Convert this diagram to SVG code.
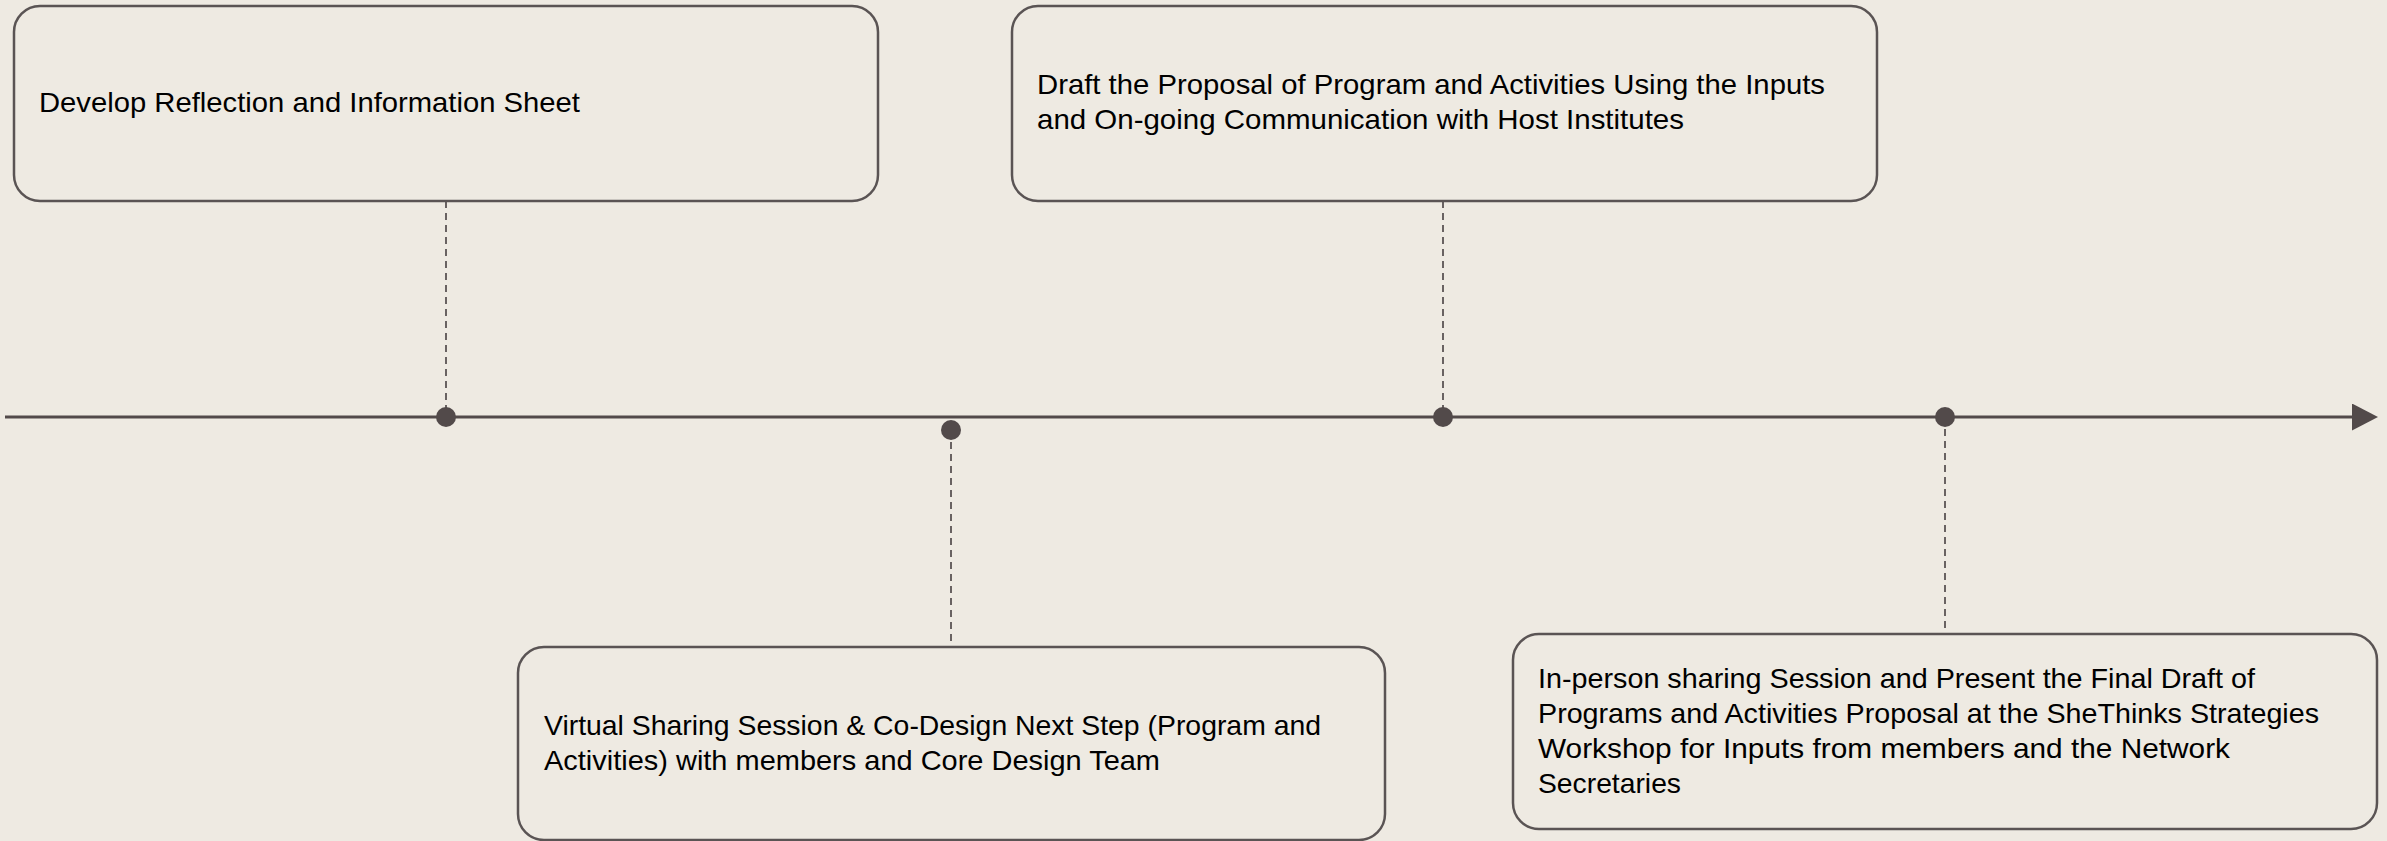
<svg xmlns="http://www.w3.org/2000/svg" width="2387" height="841" viewBox="0 0 2387 841">
<style>
.box{fill:#EEEAE2;stroke:#5A5454;stroke-width:2.5}
.lbl{font-family:"Liberation Sans",Arial,sans-serif;font-size:28px;fill:#000}
.dash{stroke:#5A5454;stroke-width:1.8;stroke-dasharray:7,5;fill:none}
.dot{fill:#524A4A}
</style>
<defs>
<marker id="arr" markerUnits="userSpaceOnUse" markerWidth="30" markerHeight="30" refX="0" refY="13.5" orient="auto">
<path d="M0,0 L26,13.5 L0,27 Z" fill="#524A4A"/>
</marker>
</defs>
<rect width="2387" height="841" fill="#EEEAE2"/>
<g id="connectors">
<line x1="5" y1="417" x2="2352" y2="417" stroke="#524A4A" stroke-width="3" marker-end="url(#arr)"/>
<line class="dash" x1="446" y1="201" x2="446" y2="417"/>
<line class="dash" x1="1443" y1="201" x2="1443" y2="417"/>
<line class="dash" x1="951" y1="430" x2="951" y2="647"/>
<line class="dash" x1="1945" y1="417" x2="1945" y2="634"/>
<circle class="dot" cx="446" cy="417" r="10"/>
<circle class="dot" cx="951" cy="430" r="10"/>
<circle class="dot" cx="1443" cy="417" r="10"/>
<circle class="dot" cx="1945" cy="417" r="10"/>
</g>
<g id="node1">
<rect class="box" x="14" y="6" width="864" height="195" rx="26"/>
<text class="lbl" x="39" y="112" textLength="541" lengthAdjust="spacingAndGlyphs">Develop Reflection and Information Sheet</text>
</g>
<g id="node2">
<rect class="box" x="1012" y="6" width="865" height="195" rx="26"/>
<text class="lbl" x="1037" y="94" textLength="788" lengthAdjust="spacingAndGlyphs">Draft the Proposal of Program and Activities Using the Inputs</text>
<text class="lbl" x="1037" y="129" textLength="647" lengthAdjust="spacingAndGlyphs">and On-going Communication with Host Institutes</text>
</g>
<g id="node3">
<rect class="box" x="518" y="647" width="867" height="193" rx="26"/>
<text class="lbl" x="544" y="735" textLength="777" lengthAdjust="spacingAndGlyphs">Virtual Sharing Session &amp; Co-Design Next Step (Program and</text>
<text class="lbl" x="544" y="770" textLength="616" lengthAdjust="spacingAndGlyphs">Activities) with members and Core Design Team</text>
</g>
<g id="node4">
<rect class="box" x="1513" y="634" width="864" height="195" rx="26"/>
<text class="lbl" x="1538" y="688" textLength="717" lengthAdjust="spacingAndGlyphs">In-person sharing Session and Present the Final Draft of</text>
<text class="lbl" x="1538" y="723" textLength="781" lengthAdjust="spacingAndGlyphs">Programs and Activities Proposal at the SheThinks Strategies</text>
<text class="lbl" x="1538" y="758" textLength="692" lengthAdjust="spacingAndGlyphs">Workshop for Inputs from members and the Network</text>
<text class="lbl" x="1538" y="793" textLength="143" lengthAdjust="spacingAndGlyphs">Secretaries</text>
</g>
</svg>
